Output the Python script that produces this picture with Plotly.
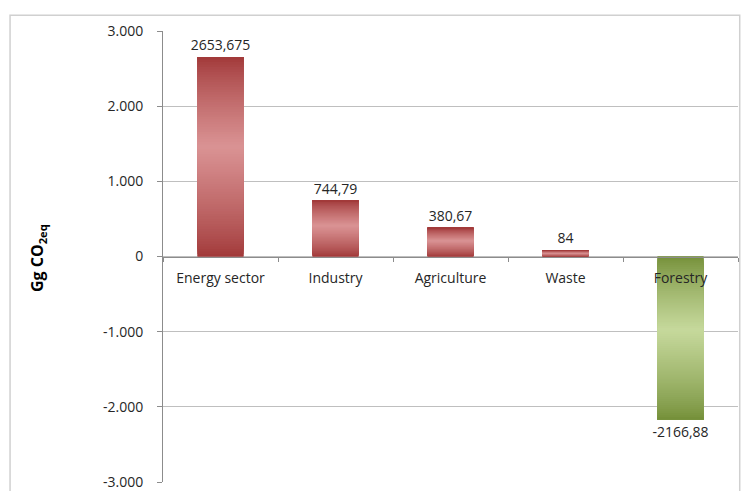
import plotly.graph_objects as go

categories = ["Energy sector", "Industry", "Agriculture", "Waste", "Forestry"]
values = [2653.675, 744.79, 380.67, 84, -2166.88]
y_tickvals = [-3000, -2000, -1000, 0, 1000, 2000, 3000]
y_ticktext = ["-3.000", "-2.000", "-1.000", "0", "1.000", "2.000", "3.000"]

labels = [str(v).replace(".", ",") for v in values]

RED_DARK = (160, 55, 55)
RED_LIGHT = (218, 147, 148)
GREEN_DARK = (115, 142, 55)
GREEN_LIGHT = (198, 217, 156)
FONT = "Open Sans"


def mix(a, b, t):
    return "rgb(%d,%d,%d)" % tuple(round(a[k] + (b[k] - a[k]) * t) for k in range(3))


def profile(s):
    # s: 0 at top of bar, 1 at bottom; light in the middle
    peak = 0.45
    if s <= peak:
        t = s / peak
    else:
        t = (1 - s) / (1 - peak)
    return t ** 0.8


N = 80
fig = go.Figure()

# base full bars (carry the data labels)
fig.add_trace(go.Bar(
    x=categories, y=values,
    marker=dict(color=[mix(GREEN_DARK, GREEN_DARK, 0) if v < 0 else mix(RED_DARK, RED_DARK, 0) for v in values],
                line=dict(width=0)),
    width=0.4,
    text=labels, textposition="outside", cliponaxis=False, constraintext="none",
    textfont=dict(family=FONT, size=14, color="#262626"),
    hoverinfo="skip", showlegend=False,
))

# gradient: each layer runs from its start to the bar end, later layers on top
for i in range(N):
    cols = []
    for v in values:
        if v >= 0:
            s = 1 - (i + 0.5) / N
            cols.append(mix(RED_DARK, RED_LIGHT, profile(s)))
        else:
            s = (i + 0.5) / N
            cols.append(mix(GREEN_DARK, GREEN_LIGHT, profile(s)))
    fig.add_trace(go.Bar(
        x=categories,
        y=[v * (N - i) / N for v in values],
        base=[v * i / N for v in values],
        width=0.4,
        marker=dict(color=cols, line=dict(width=0)),
        hoverinfo="skip", showlegend=False,
    ))

fig.update_layout(
    width=741, height=491,
    margin=dict(l=163, r=3, t=31, b=9, autoexpand=False),
    paper_bgcolor="white", plot_bgcolor="white",
    barmode="overlay",
    font=dict(family=FONT, size=14, color="#262626"),
    xaxis=dict(
        anchor="free", position=0.5, automargin=False,
        showline=True, linecolor="#8c8c8c", linewidth=1,
        ticks="outside", tickson="boundaries", ticklen=4, tickcolor="#8c8c8c",
        showgrid=False, zeroline=False,
        ticklabelstandoff=9,
        tickfont=dict(family=FONT, size=14, color="#262626"),
    ),
    yaxis=dict(
        range=[-3000, 3000], automargin=False,
        tickvals=y_tickvals, ticktext=y_ticktext,
        showline=True, linecolor="#8c8c8c", linewidth=1,
        ticks="outside", ticklen=5, tickcolor="#8c8c8c",
        showgrid=True, gridcolor="#bfbfbf", gridwidth=1,
        zeroline=False,
        ticklabelstandoff=11,
        tickfont=dict(family=FONT, size=14, color="#262626"),
    ),
    annotations=[dict(
        text="<b>Gg CO<sub>2eq</sub></b>",
        xref="paper", yref="paper", x=-0.217, y=0.497,
        xanchor="center", yanchor="middle", textangle=-90,
        showarrow=False, font=dict(family=FONT, size=16, color="#000000"),
    )],
    shapes=[dict(
        type="rect", xref="paper", yref="paper",
        x0=-0.266, x1=1.003, y0=-0.04, y1=1.035,
        line=dict(color="#d0d0d0", width=1.5), layer="below",
    )],
)

fig.write_html("out.html", post_script="document.body.style.margin='0';",
               config={"displayModeBar": False})
